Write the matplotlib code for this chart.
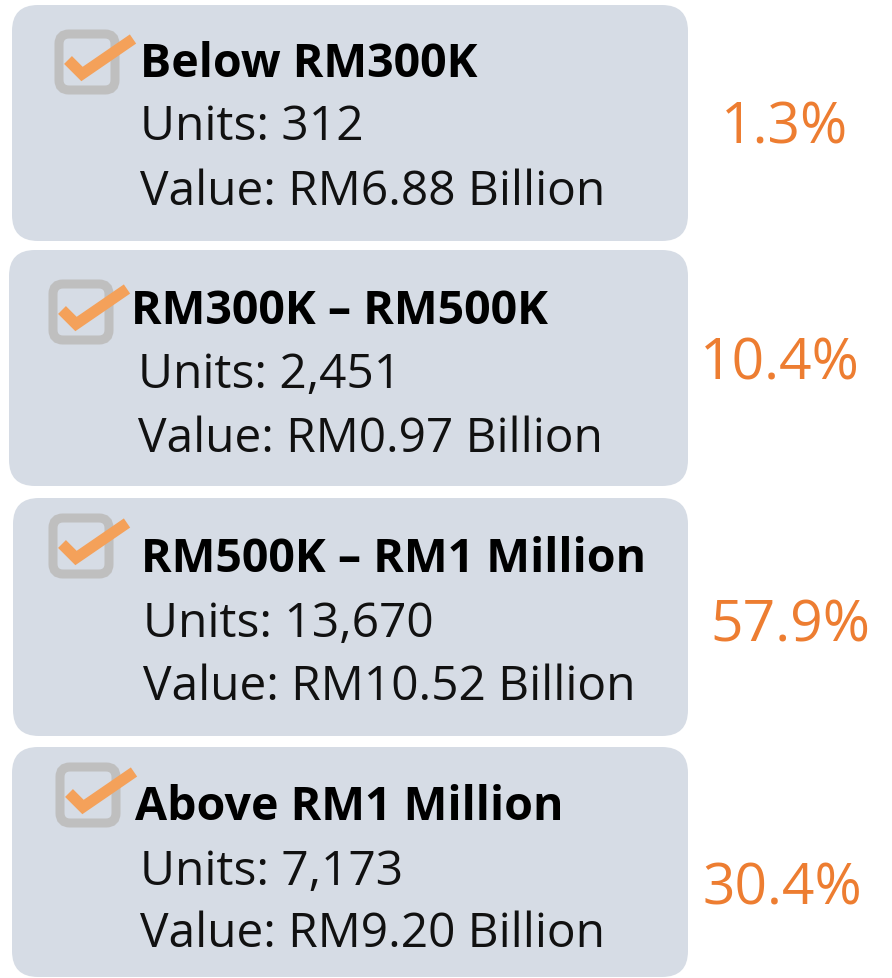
import matplotlib.pyplot as plt
from matplotlib.patches import FancyBboxPatch

# data
categories = ["Below RM300K", "RM300K \u2013 RM500K", "RM500K \u2013 RM1 Million", "Above RM1 Million"]
units = ["312", "2,451", "13,670", "7,173"]
values = ["RM6.88 Billion", "RM0.97 Billion", "RM10.52 Billion", "RM9.20 Billion"]
shares = ["1.3%", "10.4%", "57.9%", "30.4%"]

# layout (pixels, top-left origin)
box_top = [6, 251, 499, 748]
box_bottom = [242, 487, 737, 978]
box_left = [12, 9, 13, 12]
box_right = 688
text_x = [(140, 140), (131, 138), (141, 143), (135, 140)]
baselines = [(77, 140, 205), (324, 388, 452), (572, 637, 700), (820, 885, 947)]
check_box = [(55, 31), (49, 281), (49, 515), (56, 764)]
share_xc = [785, 780, 790, 782]
share_base = [143, 380, 642, 905]

box_color = "#D6DCE5"
orange = "#ED7D31"
check_color = "#F4A15A"
font = "Open Sans"

fig = plt.figure(figsize=(8.92, 9.79), dpi=100)
ax = fig.add_axes([0, 0, 1, 1])
ax.set_xlim(0, 892)
ax.set_ylim(979, 0)
ax.axis("off")

for i in range(len(categories)):
    l, t, b = box_left[i], box_top[i], box_bottom[i]
    ax.add_patch(FancyBboxPatch((l, t), box_right - l, b - t,
                                boxstyle="round,pad=0,rounding_size=26",
                                fc=box_color, ec="none"))
    # checkbox
    cx, cy = check_box[i]
    ax.add_patch(FancyBboxPatch((cx + 4, cy + 4), 56, 56,
                                boxstyle="round,pad=0,rounding_size=10",
                                fc="none", ec="#BFBFBF", lw=6.5))
    ax.plot([cx + 13, cx + 27, cx + 78], [cy + 30, cy + 44, cy + 9],
            color=check_color, lw=8, solid_capstyle="butt",
            solid_joinstyle="miter")

    tx1, tx2 = text_x[i]
    b1, b2, b3 = baselines[i]
    ax.text(tx1, b1, categories[i], fontsize=33.5, fontweight="bold",
            family=font, va="baseline", ha="left", color="#000000")
    ax.text(tx2, b2, "Units: " + units[i], fontsize=34.5,
            family=font, va="baseline", ha="left", color="#111111")
    ax.text(tx2, b3, "Value: " + values[i], fontsize=34.5,
            family=font, va="baseline", ha="left", color="#111111")
    ax.text(share_xc[i], share_base[i], shares[i], fontsize=41,
            family=font, va="baseline", ha="center", color=orange)

fig.savefig("out.png", dpi=100)
